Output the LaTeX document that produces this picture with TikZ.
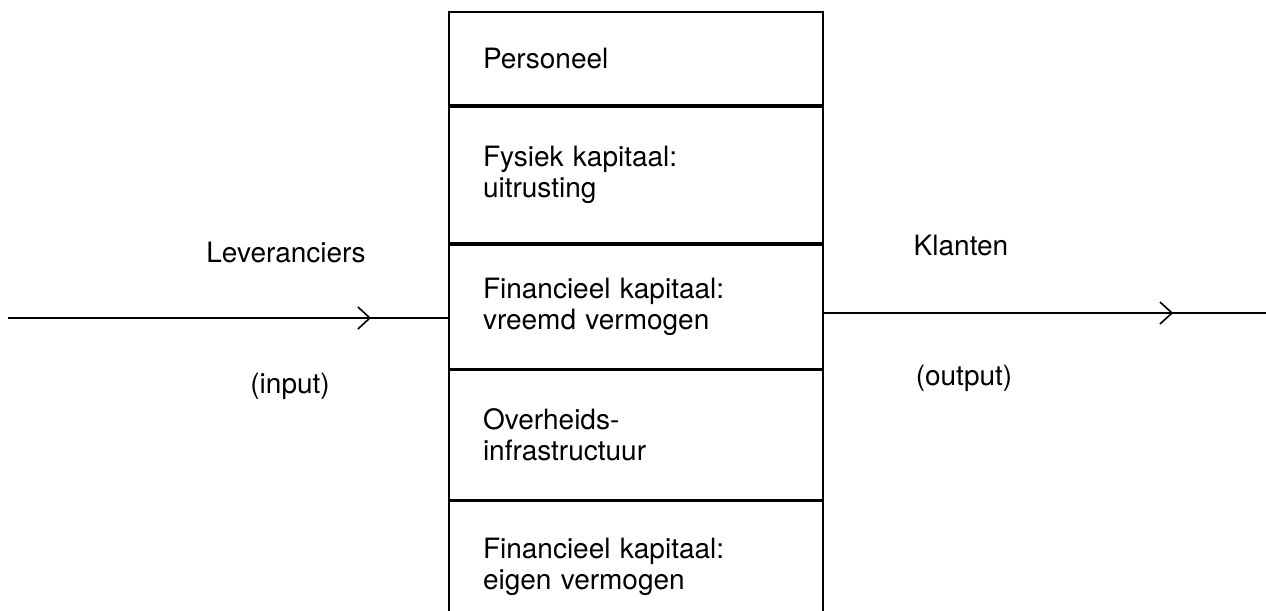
\documentclass[tikz,border=0pt]{standalone}
\usepackage{fontspec}
\setmainfont{TeX Gyre Heros}
\usetikzlibrary{positioning,% below=of etc.
arrows.meta,%            barb tips
decorations.markings}%   tips halfway along a line
\tikzset{every node/.style={font=\fontsize{14}{15.5}\selectfont},
  row/.style={draw, line width=0.9pt, minimum width=187pt, text width=153pt,
    inner xsep=17pt, inner ysep=0pt, align=left},
  flow/.style={line width=0.8pt, decoration={markings,
    mark=at position #1 with {\arrow{Straight Barb[length=6pt,width=11pt]}}},
    postaction={decorate}}}

\begin{document}
\begin{tikzpicture}[x=0.5pt, y=-0.5pt]
  \clip (0,0) rectangle (1266,611);
  \fill[white] (0,0) rectangle (1266,611);
  % the five rows of the box
  \node[row, minimum height=46.5pt] (pers) at (636,58.5) {Personeel};
  \node[row, minimum height=68pt, below=0pt of pers] (fys) {Fysiek kapitaal:\\uitrusting};
  \node[row, minimum height=62pt, below=0pt of fys] (vreemd) {Financieel kapitaal:\\vreemd vermogen};
  \node[row, minimum height=64.5pt, below=0pt of vreemd] (overh) {Overheids-\\infrastructuur};
  \node[row, minimum height=66pt, below=0pt of overh] (eigen) {Financieel kapitaal:\\eigen vermogen};
  % input and output
  \coordinate (lev) at (8,318);
  \coordinate (kla) at (1266,313);
  \draw[flow=0.825] (lev) -- (lev -| vreemd.west);
  \draw[flow=0.79] (vreemd.east |- kla) -- (kla);
  \node (levtxt) at (286,253) {Leveranciers};
  \node (input) at (290,386) {(input)};
  \node (klatxt) at (961,246) {Klanten};
  \node (output) at (964,378) {(output)};
\end{tikzpicture}
\end{document}
